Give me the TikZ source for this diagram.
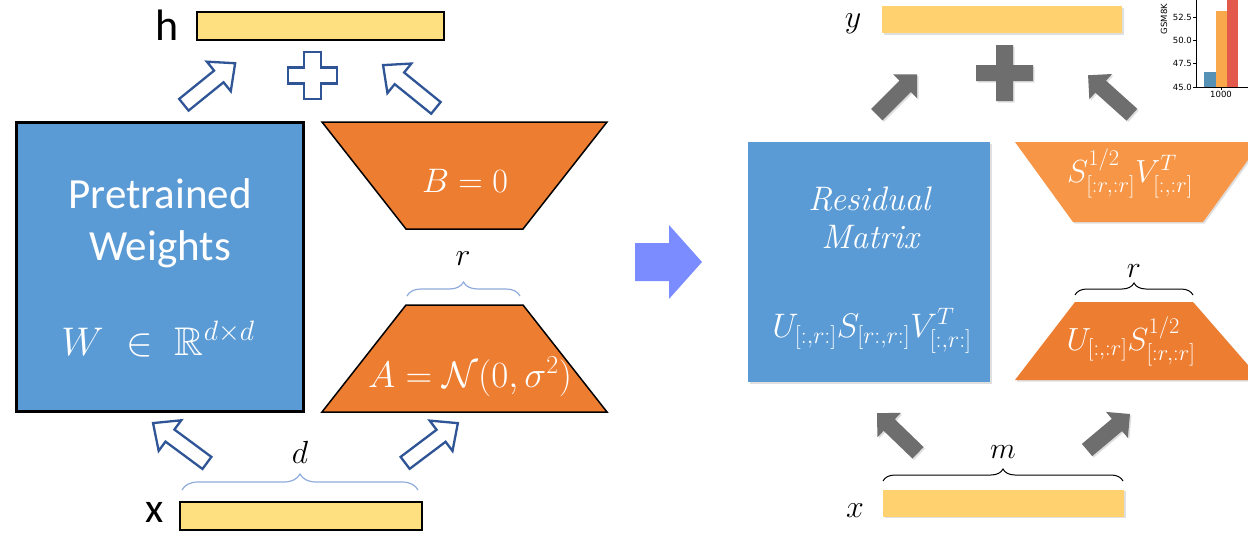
\RequirePackage{fix-cm}
\documentclass[tikz,border=0pt]{standalone}
\usepackage{amsmath,amssymb}
\usepackage{fontspec}
\newfontfamily\calibri{Carlito}
\newfontfamily\dejavu{DejaVu Sans}
\usetikzlibrary{decorations.pathreplacing,shadows}
\definecolor{lyellow}{HTML}{FFE080}
\definecolor{ryellow}{HTML}{FFD16F}
\definecolor{pblue}{HTML}{5B9BD5}
\definecolor{porange}{HTML}{ED7D31}
\definecolor{lorange}{HTML}{F79646}
\definecolor{abl}{HTML}{2F5597}
\definecolor{brc}{HTML}{8FAADC}
\definecolor{agray}{HTML}{6E6E6E}
\definecolor{midarrow}{HTML}{7A8CFF}
\definecolor{cblue}{HTML}{5591B5}
\definecolor{corange}{HTML}{F9A84C}
\definecolor{cred}{HTML}{E35A4D}
% block arrow: #1 style, #2 centre, #3 angle, #4 length, #5 shaft half width, #6 head half width, #7 head length
\newcommand\blockarrow[7]{%
  \path[#1, shift={#2}, rotate=#3]
    ({-#4/2},{-#5}) -- ({#4/2-#7},{-#5}) -- ({#4/2-#7},{-#6}) -- ({#4/2},0)
    -- ({#4/2-#7},{#6}) -- ({#4/2-#7},{#5}) -- ({-#4/2},{#5}) -- cycle;}
\tikzset{
  fs/.style={font=\fontsize{#1}{#1}\selectfont},
  cfs/.style={font=\calibri\fontsize{#1}{#1}\selectfont},
  dfs/.style={font=\dejavu\fontsize{#1}{#1}\selectfont},
  shd/.style={drop shadow={opacity=0.25, shadow xshift=1.5pt, shadow yshift=-1.5pt}},
  lbar/.style={draw=black, line width=2.5pt, fill=lyellow, minimum width=#1, minimum height=28pt, inner sep=0pt},
  rbar/.style={fill=ryellow, minimum width=#1, minimum height=27pt, inner sep=0pt, shd},
  wtxt/.style={text=white, inner sep=0pt, anchor=base},
  ktxt/.style={text=black, inner sep=0pt, anchor=base},
  ltrap/.style={draw=black, line width=1.5pt, fill=porange, line join=miter},
  oarrow/.style={draw=abl, fill=white, line width=2.3pt, line join=miter},
  garrow/.style={fill=agray, shd},
  lbrace/.style={draw=brc, line width=1.2pt, decorate, decoration={brace, amplitude=#1}},
  rbrace/.style={draw=black, line width=1pt, decorate, decoration={brace, amplitude=#1}},
}
\begin{document}
\begin{tikzpicture}[x=1pt, y=-1pt]
\clip (0,0) rectangle (1248,533);
\fill[white] (0,0) rectangle (1248,533);

% ---------------- left: LoRA ----------------
\node[ktxt, cfs=44] (hlab) at (167,40) {h};
\node[lbar=247pt] (hbar) at (320.5,26) {};
\draw[abl, line width=2.3pt, fill=white, shift={(312.5,75.5)}]
  (-8.5,-23.5) -- (8.5,-23.5) -- (8.5,-8) -- (24.5,-8) -- (24.5,8) -- (8.5,8) -- (8.5,23.5)
  -- (-8.5,23.5) -- (-8.5,8) -- (-24.5,8) -- (-24.5,-8) -- (-8.5,-8) -- cycle;
\blockarrow{oarrow}{(209.5,84)}{39}{66}{7.5}{19}{21}
\blockarrow{oarrow}{(409.5,86.5)}{141}{68}{7.5}{19}{21}

\node[draw=black, line width=3pt, fill=pblue, minimum width=287pt, minimum height=289pt, inner sep=0pt] (W) at (159.5,266.5) {};
\node[wtxt, cfs=43] (pt1) at (160,208) {Pretrained};
\node[wtxt, cfs=43] (pt2) at (160,260) {Weights};
\node[wtxt, fs=40] (pt3) at (158,355) {$W \;\in\; \mathbb{R}^{d\times d}$};

\draw[ltrap] (322,122) coordinate (B1) -- (607,122) coordinate (B2) -- (523,229) coordinate (B3) -- (406,229) coordinate (B4) -- cycle;
\node[wtxt, fs=34] (Btxt) at (465,192) {$B = 0$};
\draw[lbrace=14pt] (407,296) coordinate (rb1) -- (520,296) coordinate (rb2);
\node[ktxt, fs=32] (rlab) at (463,265) {$r$};
\draw[ltrap] (406,305) coordinate (A1) -- (523,305) coordinate (A2) -- (607,412) coordinate (A3) -- (322,412) coordinate (A4) -- cycle;
\node[wtxt, fs=37] (Atxt) at (470,387) {$A = \mathcal{N}(0,\sigma^2)$};

\blockarrow{oarrow}{(180,443)}{143.5}{67}{7.5}{19}{21}
\blockarrow{oarrow}{(431.5,443)}{37}{66}{7.5}{19}{21}
\draw[lbrace=16pt] (182,490) coordinate (db1) -- (418,490) coordinate (db2);
\node[ktxt, fs=32] (dlab) at (300,463) {$d$};
\node[ktxt, cfs=42] (xlab) at (155,522) {x};
\node[lbar=242pt] (xbar) at (301,516) {};

% ---------------- middle arrow ----------------
\fill[midarrow] (635,243) -- (669,243) -- (669,225) -- (702,262) -- (669,299) -- (669,281) -- (635,281) -- cycle;

% ---------------- right: PiSSA ----------------
\node[ktxt, fs=32] (ylab) at (853,27) {$y$};
\node[rbar=240pt] (ybar) at (1002,19.5) {};
\fill[agray, shift={(1004.5,73)}, shd]
  (-8.5,-28) -- (8.5,-28) -- (8.5,-8) -- (28.5,-8) -- (28.5,8) -- (8.5,8) -- (8.5,28)
  -- (-8.5,28) -- (-8.5,8) -- (-28.5,8) -- (-28.5,-8) -- (-8.5,-8) -- cycle;
\blockarrow{garrow}{(897,94.5)}{45}{57}{8}{17}{17}
\blockarrow{garrow}{(1110,95)}{138}{59}{8}{17}{17}

\node[fill=pblue, minimum width=242pt, minimum height=240pt, inner sep=0pt, shd] (R) at (869,262) {};
\node[wtxt, fs=34] (rt1) at (869,210) {\itshape Residual};
\node[wtxt, fs=34] (rt2) at (870,248) {\itshape Matrix};
\node[wtxt, fs=34] (rt3) at (872,337) {$U_{[:,r:]}S_{[r:,r:]}V_{[:,r:]}^{T}$};

\fill[lorange, shd] (1015,142) coordinate (P1) -- (1261,142) coordinate (P2) -- (1203,222) coordinate (P3) -- (1073,222) coordinate (P4) -- cycle;
\node[wtxt, fs=32] (Bptxt) at (1130,182) {$S_{[:r,:r]}^{1/2}V_{[:,:r]}^{T}$};
\draw[rbrace=12pt] (1075,295) coordinate (rr1) -- (1193,295) coordinate (rr2);
\node[ktxt, fs=30] (rlab2) at (1134,277) {$r$};
\fill[porange, shd] (1075,302) coordinate (Q1) -- (1193,302) coordinate (Q2) -- (1261,380) coordinate (Q3) -- (1015,380) coordinate (Q4) -- cycle;
\node[wtxt, fs=32] (Aptxt) at (1131,350) {$U_{[:,:r]}S_{[:r,:r]}^{1/2}$};

\blockarrow{garrow}{(897.5,433)}{136}{57}{8}{17}{17}
\blockarrow{garrow}{(1108.5,432)}{40}{56}{8}{17}{17}
\draw[rbrace=12pt] (883,481) coordinate (mb1) -- (1123,481) coordinate (mb2);
\node[ktxt, fs=30] (mlab) at (1003,458) {$m$};
\node[ktxt, fs=32] (xlab2) at (855,517) {$x$};
\node[rbar=241pt] (xbar2) at (1003.5,503) {};

% ---------------- corner chart ----------------
\fill[cblue] (1204,72) rectangle (1216,87);
\fill[corange] (1216,10.5) rectangle (1227,87);
\fill[cred] (1227,-5) rectangle (1238,87);
\draw[black, line width=0.6pt] (1196,-2) -- (1196,87) -- (1250,87);
\foreach \yy/\tl in {17/52.5, 40.3/50.0, 63.7/47.5, 87/45.0}{
  \draw[black, line width=0.5pt] (1193,\yy) -- (1196,\yy);
  \node[dfs=8.5, anchor=east, inner sep=0pt] at (1192,\yy) {\tl};
}
\draw[black, line width=0.5pt] (1221,87) -- (1221,90);
\node[dfs=8.5, anchor=north, inner sep=0pt] (tick) at (1221,91) {1000};
\node[dfs=8.5, rotate=90, inner sep=0pt] (gsm) at (1164,19) {GSM8K};
\end{tikzpicture}
\end{document}
